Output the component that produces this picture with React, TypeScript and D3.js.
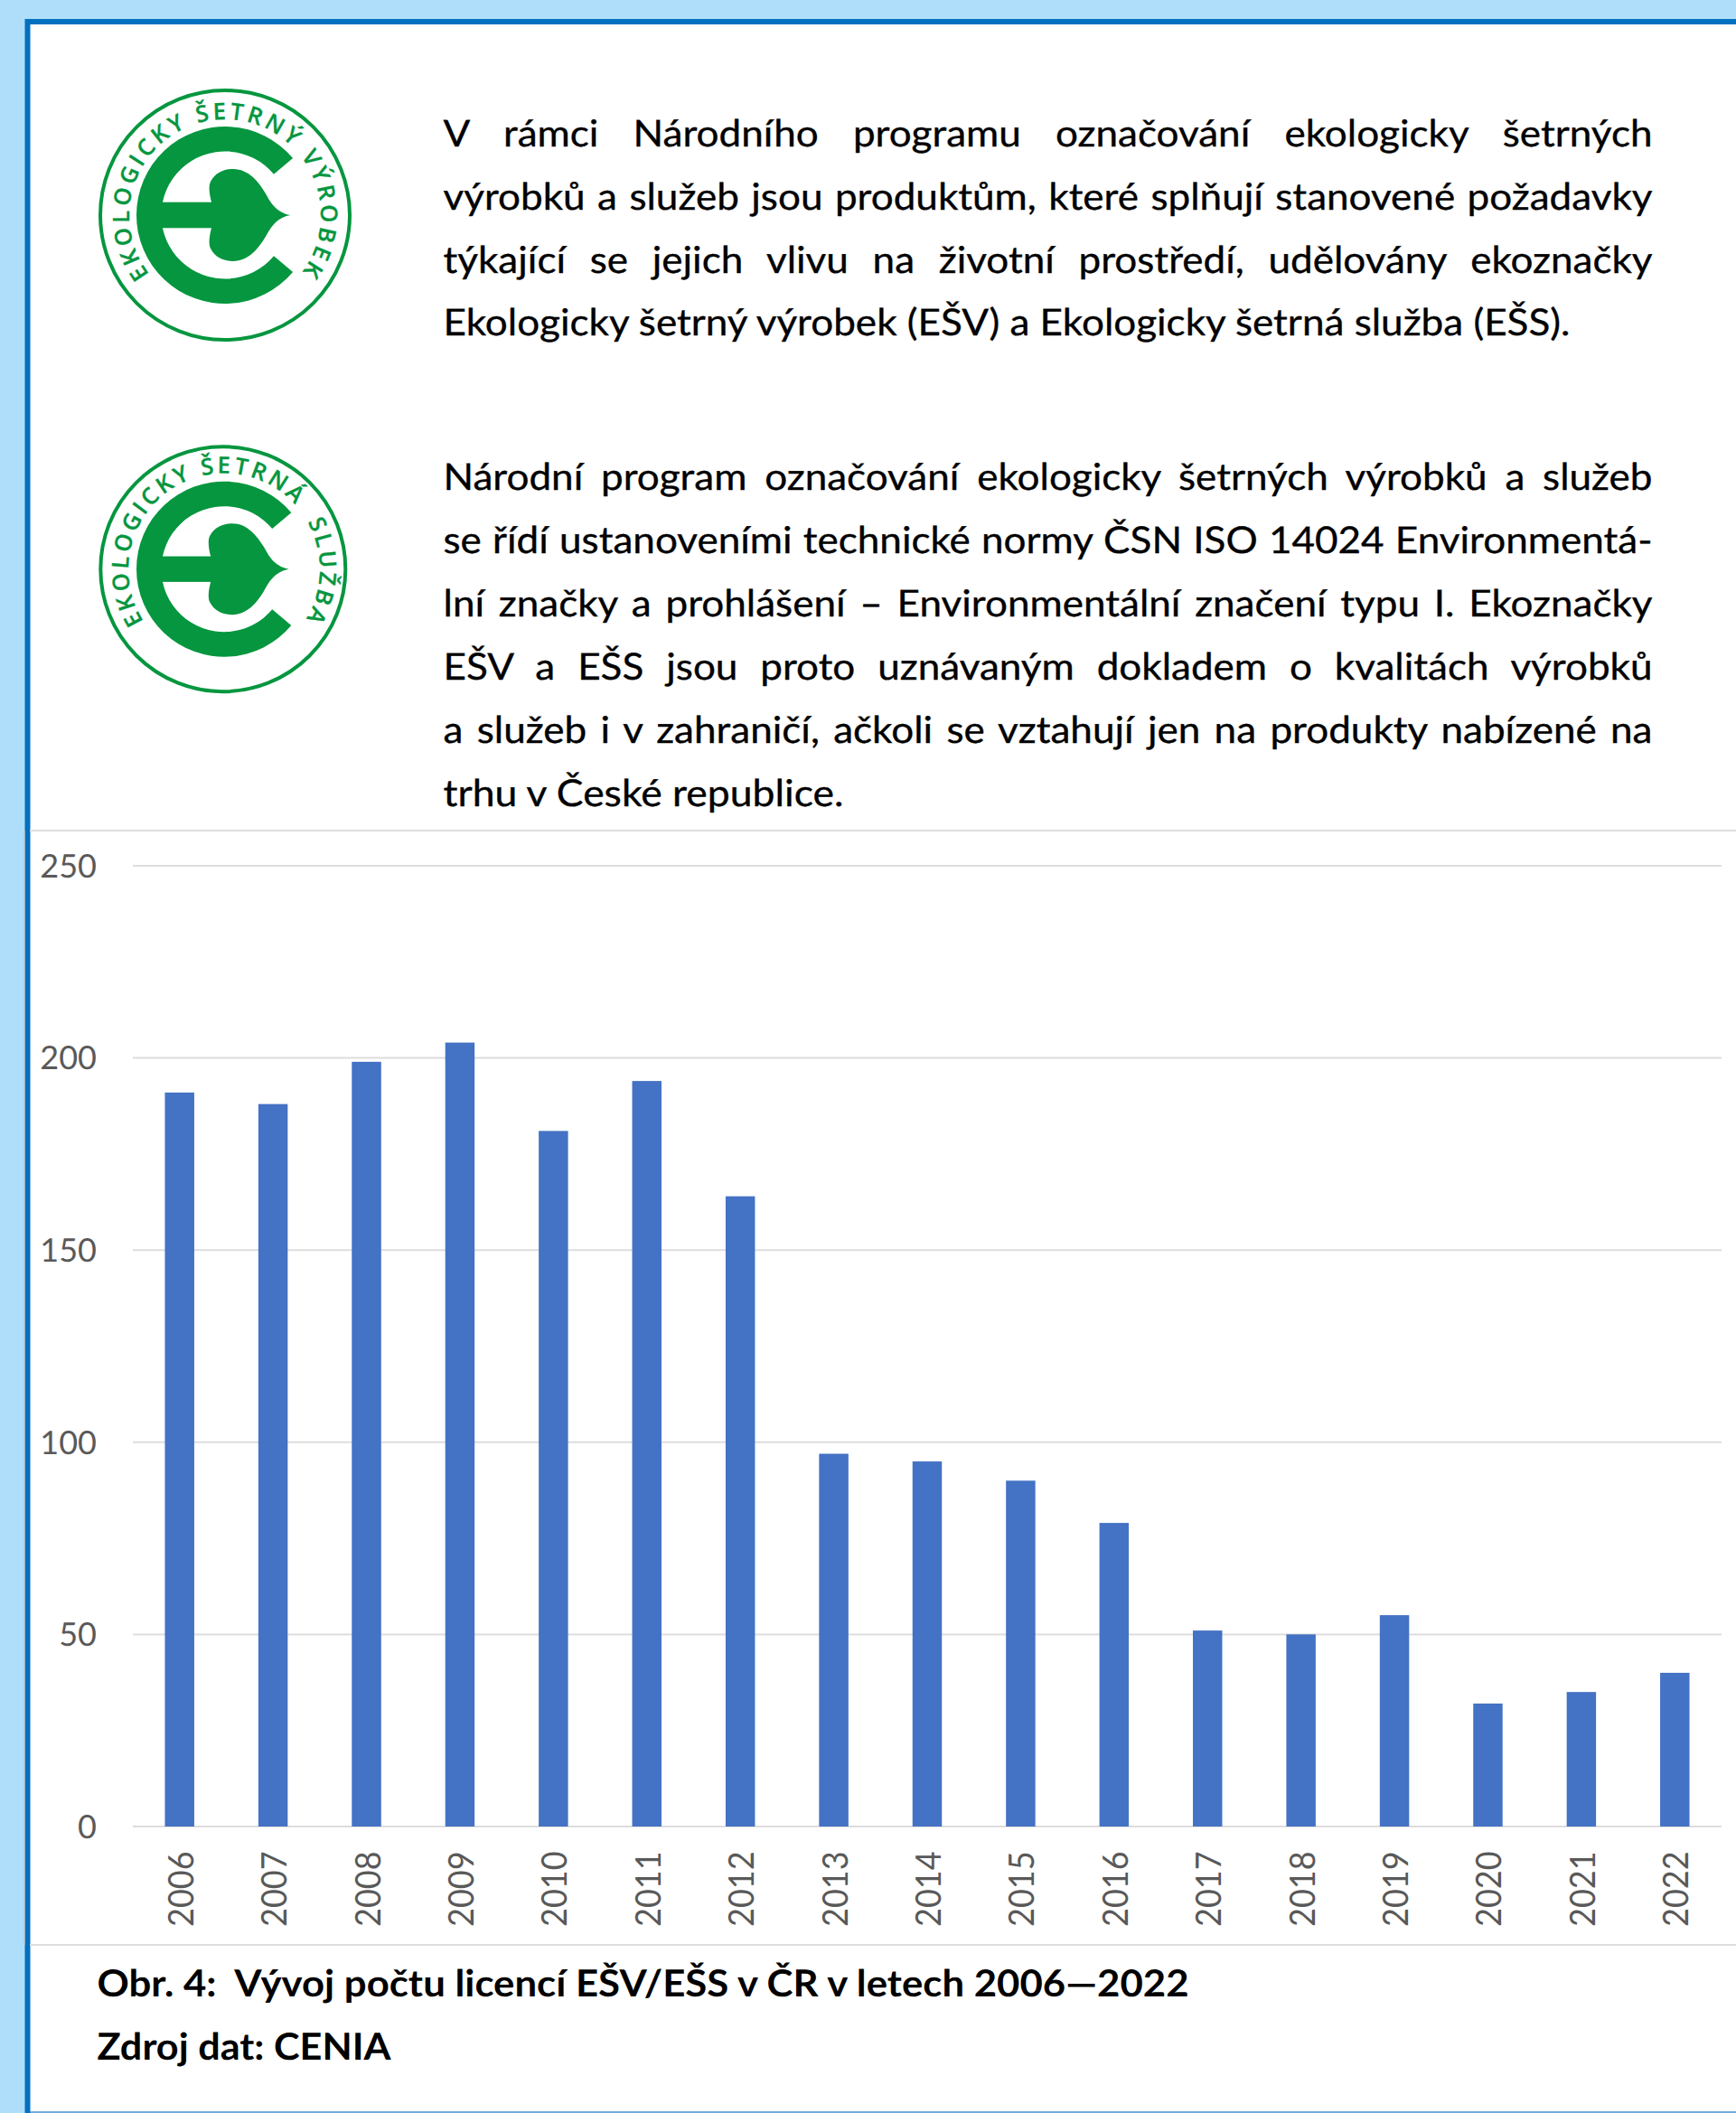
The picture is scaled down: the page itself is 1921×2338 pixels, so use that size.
import React from "react";
import * as d3 from "d3";

const years = ["2006","2007","2008","2009","2010","2011","2012","2013","2014","2015","2016","2017","2018","2019","2020","2021","2022"];
const licences = [191,188,199,204,181,194,164,97,95,90,79,51,50,55,32,35,40];
const yTicks = [0,50,100,150,200,250];

const paragraphOne = [
  "V rámci Národního programu označování ekologicky šetrných",
  "výrobků a služeb jsou produktům, které splňují stanovené požadavky",
  "týkající se jejich vlivu na životní prostředí, udělovány ekoznačky",
  "Ekologicky šetrný výrobek (EŠV) a Ekologicky šetrná služba (EŠS).",
];
const paragraphTwo = [
  "Národní program označování ekologicky šetrných výrobků a služeb",
  "se řídí ustanoveními technické normy ČSN ISO 14024 Environmentá-",
  "lní značky a prohlášení – Environmentální značení typu I. Ekoznačky",
  "EŠV a EŠS jsou proto uznávaným dokladem o kvalitách výrobků",
  "a služeb i v zahraničí, ačkoli se vztahují jen na produkty nabízené na",
  "trhu v České republice.",
];
const captionLines = ["Obr. 4:  Vývoj počtu licencí EŠV/EŠS v ČR v letech 2006—2022", "Zdroj dat: CENIA"];
const logoTexts = ["EKOLOGICKY ŠETRNÝ VÝROBEK", "EKOLOGICKY ŠETRNÁ  SLUŽBA"];

const W = 1921, H = 2338;
const GREEN = "#05963F";
const ctx = document.createElement("canvas").getContext("2d")! as any;
ctx.textRendering = "geometricPrecision";
function measure(t: string, font: string) { ctx.font = font; return ctx.measureText(t).width; }

const BODY_FONT = "41px Lato";
const BODY_K = 1247 / measure(paragraphOne[3], BODY_FONT);

function Para({ lines, baselines, lastW }: { lines: string[]; baselines: number[]; lastW: number }) {
  const x = 490.5, fullW = 1338;
  return (
    <g fontFamily="Lato" fontSize={41} fill="#000" stroke="#000" strokeWidth={0.35} textRendering="geometricPrecision">
      {lines.map((t, i) => {
        const last = i === lines.length - 1;
        const natural = measure(t, BODY_FONT);
        const spaces = t.split(" ").length - 1;
        const k = last ? lastW / natural : BODY_K;
        const ws = last ? 0 : (fullW / k - natural) / spaces;
        return <text key={i} transform={`translate(${x},${baselines[i]}) scale(${k},1)`} style={{ wordSpacing: ws }}>{t}</text>;
      })}
    </g>
  );
}

function Logo({ cx, cy, circleDx, circleR, ringOuter, ringInner, text, textR, span, id }:
  { cx: number; cy: number; circleDx: number; circleR: number; ringOuter: number; ringInner: number; text: string; textR: number; span: number; id: string }) {
  const rad = Math.PI / 180;
  const ring = d3.arc()({ innerRadius: ringInner, outerRadius: ringOuter, startAngle: 130 * rad, endAngle: 410 * rad } as any) as string;
  const p = d3.path();
  p.arc(0, 0, textR, Math.PI / 2, Math.PI / 2 + 2 * Math.PI);
  const fs = 25.5;
  const font = `600 ${fs}px "Open Sans"`;
  const natural = measure(text, font);
  const ls = (textR * span * rad - natural) / (text.length - 1);
  const s = ringOuter / 98;
  const leaf = "M-15,-14.3 C-16.5,-20 -19,-31 -16,-37 C-11,-47 -1,-51 9,-51 C26,-51 37,-37 44.5,-24.6 C49,-17 55,-3 72.5,0 C55,3 49,17 44.5,24.6 C37,37 26,51 9,51 C-1,51 -11,47 -16,37 C-19,31 -16.5,20 -15,14.3 Z";
  return (
    <g transform={`translate(${cx},${cy})`}>
      <circle cx={circleDx} r={circleR} fill="#fff" stroke={GREEN} strokeWidth={4} />
      <path d={ring} fill={GREEN} />
      <rect x={-ringOuter + 14} y={-14.3 * s} width={ringOuter} height={28.6 * s} fill={GREEN} />
      <path d={leaf} transform={`scale(${s})`} fill={GREEN} />
      <path id={id} d={p.toString()} fill="none" />
      <text fontFamily="Open Sans" fontWeight={600} fontSize={fs} fill={GREEN} stroke={GREEN} strokeWidth={0.3} style={{ letterSpacing: ls, whiteSpace: "pre" }}>
        <textPath href={`#${id}`} startOffset="50%" textAnchor="middle">{text}</textPath>
      </text>
    </g>
  );
}

export default function App() {
  const x = d3.scaleBand<string>().domain(years).range([147, 1905]).paddingInner(0.686).paddingOuter(0.343);
  const y = d3.scaleLinear().domain([0, 250]).range([2021, 958]);
  const capFont = "bold 41px Lato";
  const capWidths = [1208, 325];
  return (
    <svg width={W} height={H} viewBox={`0 0 ${W} ${H}`} style={{ position: "absolute", left: 0, top: 0, display: "block" }}>
      <rect width={W} height={H} fill="#AEDEF9" />
      <rect x={27.5} y={21} width={W - 27.5} height={H - 21} fill="#0070C0" />
      <rect x={33.5} y={27} width={W - 33.5} height={H - 27 - 1.5} fill="#fff" />
      <rect x={33.5} y={H - 1.5} width={W - 33.5} height={1.5} fill="#6FA8DC" />
      <rect x={26} y={919} width={1.5} height={1233} fill="#C8C8C8" />

      <Logo id="l1" cx={249} cy={238} circleDx={0} circleR={138} ringOuter={98} ringInner={70.5} text={logoTexts[0]} textR={106} span={254} />
      <Logo id="l2" cx={248} cy={629.7} circleDx={-1.2} circleR={135.5} ringOuter={97} ringInner={69.5} text={logoTexts[1]} textR={106} span={244} />

      <Para lines={paragraphOne} baselines={[161.7, 231.7, 301.7, 371]} lastW={1247} />
      <Para lines={paragraphTwo} baselines={[542, 611.7, 681.7, 751.7, 821.7, 891.7]} lastW={443} />

      <line x1={33} x2={W} y1={919} y2={919} stroke="#DDDDDD" strokeWidth={2} />
      <line x1={33} x2={W} y1={2152} y2={2152} stroke="#DDDDDD" strokeWidth={2} />

      {yTicks.map((t) => (
        <g key={t}>
          <line x1={147} x2={1905} y1={y(t)} y2={y(t)} stroke="#DDDDDD" strokeWidth={2} />
          <text x={107} y={y(t) + 12.7} textAnchor="end" fontFamily="Lato" fontSize={36} fill="#595959" textRendering="geometricPrecision">{t}</text>
        </g>
      ))}
      {years.map((yr, i) => (
        <rect key={yr} x={x(yr)} y={y(licences[i])} width={x.bandwidth()} height={y(0) - y(licences[i])} fill="#4472C4" />
      ))}
      {years.map((yr) => (
        <text key={yr} transform={`translate(${x(yr)! + x.bandwidth() / 2 + 15},2132) rotate(-90) scale(1,1.08)`} fontFamily="Lato" fontSize={36} fill="#595959" textRendering="geometricPrecision">{yr}</text>
      ))}

      {captionLines.map((t, i) => {
        const k = capWidths[i] / measure(t, capFont);
        return <text key={i} transform={`translate(107.5,${[2209, 2279][i]}) scale(${k},1)`} fontFamily="Lato" fontWeight={700} fontSize={41} fill="#000" textRendering="geometricPrecision" style={{ whiteSpace: "pre" }}>{t}</text>;
      })}
    </svg>
  );
}
